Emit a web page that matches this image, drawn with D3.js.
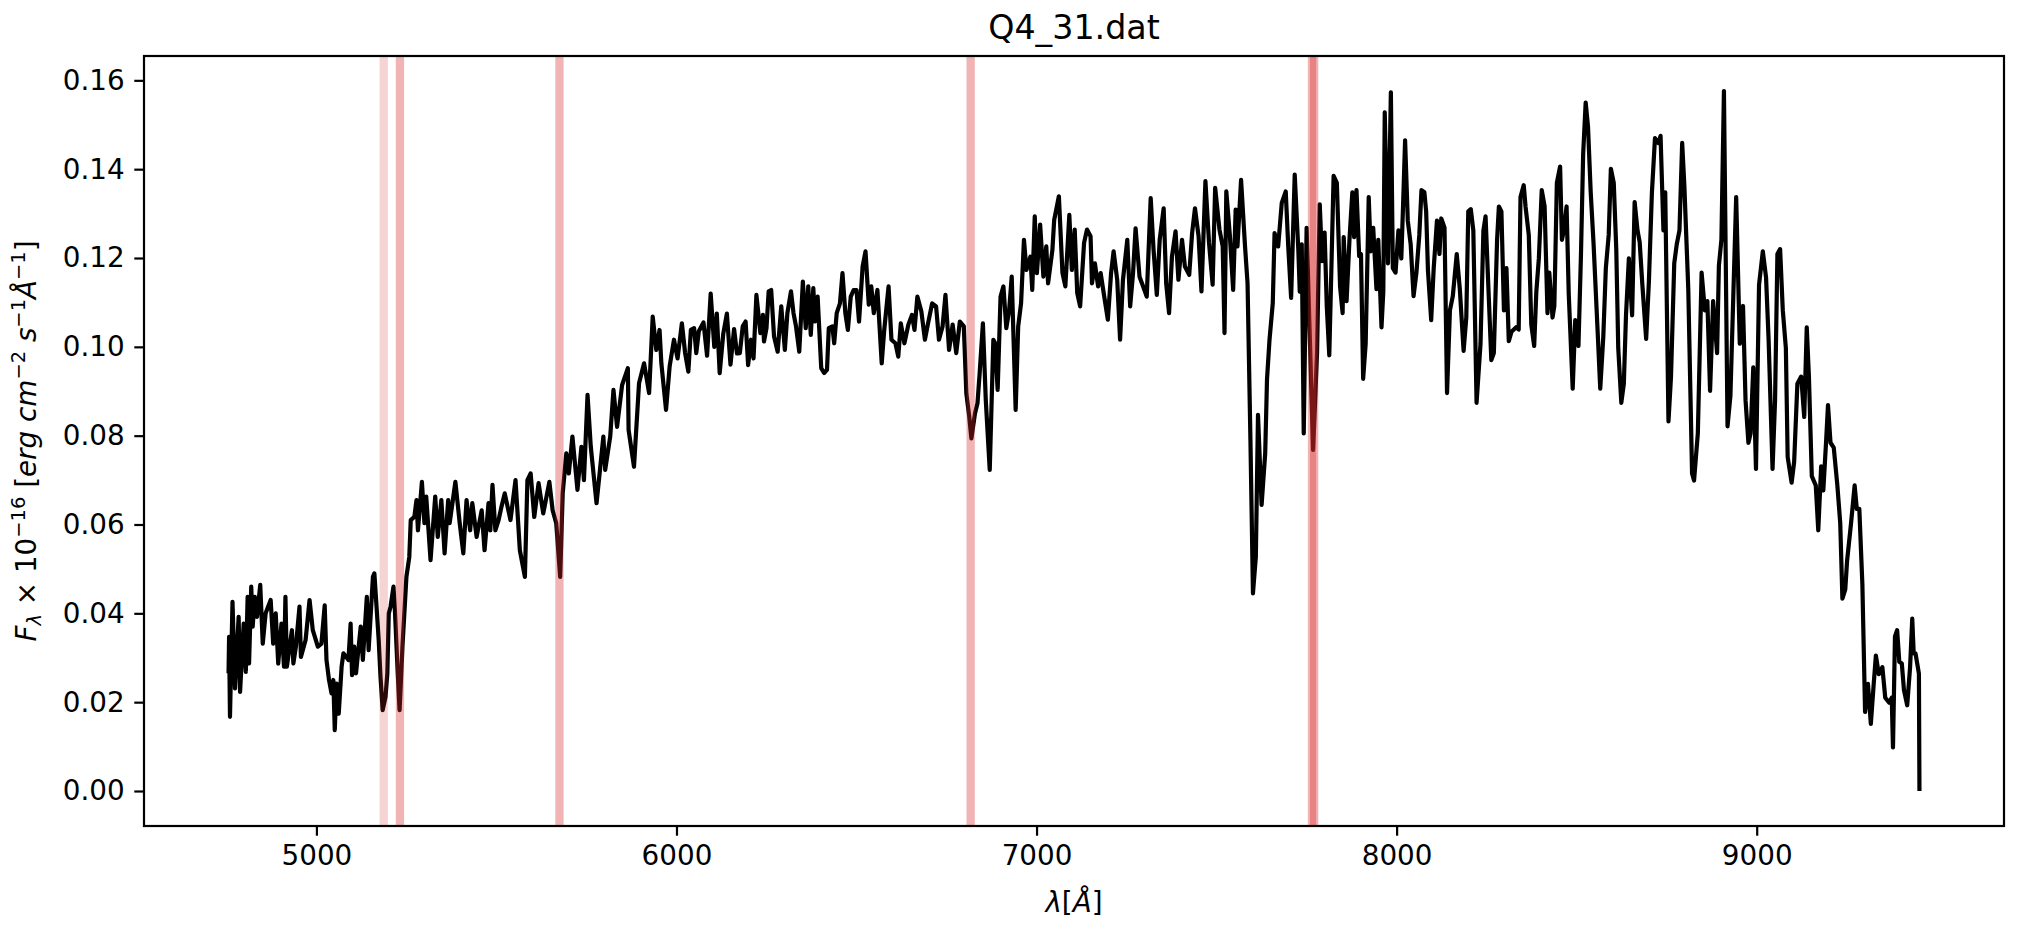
<!DOCTYPE html>
<html>
<head>
<meta charset="utf-8">
<script src="https://cdn.jsdelivr.net/npm/d3@7"></script>
<style>
  body { margin: 0; background: #fff; }
  text { font-family: "DejaVu Sans", sans-serif; fill: #000; }
</style>
</head>
<body>
<svg id="chart" width="2026" height="932"></svg>
<script>

// spectrum (wavelength in Angstrom, flux in 1e-16 erg/cm2/s/A)
var wave = [
  4756, 4757.5, 4760, 4767, 4774, 4784, 4788, 4798, 4804, 4809, 4813, 4819, 4823, 4829, 4835, 4844,
  4851, 4859, 4873, 4880, 4887, 4894, 4903, 4910, 4914, 4918, 4932, 4936, 4943, 4953, 4957, 4970,
  4981, 4990, 5004, 5014, 5023, 5028, 5035, 5042, 5047, 5051, 5056, 5062, 5070, 5075, 5089, 5095,
  5099, 5105, 5110, 5123, 5129, 5136, 5140, 5145, 5157, 5161, 5173, 5178, 5184, 5192, 5197, 5201,
  5206, 5214, 5218, 5225, 5231, 5239, 5250, 5258, 5262, 5272, 5278, 5282, 5293, 5300, 5305, 5317,
  5330, 5337, 5347, 5356, 5366, 5370, 5386, 5398, 5408, 5417, 5427, 5433, 5445, 5459, 5467, 5478,
  5483, 5489, 5497, 5506, 5514, 5523, 5539, 5553, 5565, 5579, 5586, 5595, 5605, 5617, 5630, 5647,
  5656, 5666, 5677, 5684, 5694, 5701, 5711, 5725, 5736, 5743, 5753, 5762, 5778, 5797, 5802, 5816,
  5825, 5835, 5849, 5865, 5867, 5882, 5896, 5910, 5924, 5934, 5944, 5953, 5958, 5971, 5981, 5993,
  6003, 6015, 6024, 6033, 6040, 6049, 6055, 6062, 6075, 6085, 6095, 6105, 6112, 6120, 6130, 6140,
  6150, 6160, 6168,
  6176, 6184, 6192, 6199, 6207, 6214, 6222, 6233, 6240, 6243, 6250, 6256, 6263, 6271, 6281, 6291,
  6301, 6308, 6318, 6325, 6332, 6341, 6351, 6359, 6366, 6373, 6380, 6385, 6392, 6402, 6410, 6418,
  6423, 6433, 6438, 6445, 6454, 6461, 6469, 6476, 6484, 6492, 6500, 6507, 6517, 6525, 6534, 6541,
  6548, 6558, 6570, 6577, 6589, 6597, 6608, 6616, 6623, 6633, 6644, 6654, 6661, 6669, 6680, 6690,
  6698, 6710, 6721, 6729, 6739, 6747, 6757, 6767, 6777, 6787, 6798, 6805, 6813, 6819, 6829, 6836,
  6842, 6851, 6859, 6870, 6880, 6885, 6892, 6900, 6908, 6916, 6924, 6931, 6942, 6949, 6957, 6965,
  6972, 6983, 6988, 6995, 7001, 7010, 7019, 7027, 7032, 7044, 7049, 7062, 7072, 7080, 7091, 7098,
  7106, 7113, 7121, 7132, 7140, 7150, 7154, 7162, 7171, 7178, 7188, 7198, 7207, 7214, 7224, 7232,
  7240, 7252, 7260, 7268, 7275, 7286, 7296, 7306, 7317, 7325, 7334, 7342, 7353, 7360, 7368, 7376,
  7386, 7394, 7404, 7412, 7424, 7432, 7440, 7450, 7458, 7469, 7479, 7489, 7496, 7508, 7517, 7522,
  7527, 7537, 7546, 7553, 7558, 7568, 7579, 7586, 7594, 7601, 7609, 7615, 7625, 7635, 7640, 7647,
  7656, 7661, 7671, 7681, 7692, 7699, 7707, 7717, 7727,
  7731, 7736.5, 7742, 7750, 7768, 7779, 7786.5, 7793, 7800, 7806, 7813, 7825, 7834, 7843, 7850, 7853,
  7861, 7869, 7877, 7882, 7888.5, 7896, 7901, 7907, 7914, 7922.5, 7928, 7935, 7944, 7949, 7958, 7963,
  7967, 7976, 7984, 7989.5, 7997, 8005, 8013, 8018, 8023.5, 8031, 8039, 8047, 8055, 8063, 8069, 8077,
  8082, 8087, 8096, 8103, 8112, 8119, 8124, 8133, 8140, 8148, 8156, 8167, 8175.5, 8186, 8193.5, 8199,
  8206, 8213, 8222, 8233, 8241, 8247, 8254, 8263, 8270, 8279, 8284, 8291, 8298, 8305, 8311.5, 8319,
  8332, 8339, 8344, 8353, 8358, 8367, 8374, 8382, 8388, 8395, 8403, 8411, 8419, 8424, 8433, 8438,
  8445, 8454, 8459, 8464.5, 8472, 8478, 8489, 8496, 8505, 8512, 8518, 8525, 8531.5, 8539, 8547, 8558,
  8565.5, 8574, 8581, 8589, 8595, 8603, 8610, 8615.5, 8624, 8631, 8637, 8645, 8654, 8661, 8669, 8675,
  8682, 8693, 8700.5, 8709, 8717.5, 8727, 8733, 8741, 8746, 8755, 8762, 8771, 8778, 8785.5, 8793, 8799,
  8810, 8820.5, 8826, 8836.5, 8847, 8856, 8863, 8870.5, 8879, 8890, 8895, 8902, 8909, 8919, 8927, 8935,
  8943, 8953, 8962, 8969, 8977, 8983, 8990.5, 8998, 9006.5, 9017, 9026, 9033, 9044, 9051, 9057.5, 9065,
  9072.5, 9081, 9086, 9097, 9104, 9113, 9123.5, 9132, 9139, 9145, 9153, 9164, 9171, 9179, 9185, 9192.5,
  9198, 9205, 9214, 9224, 9232, 9238, 9246, 9251, 9262, 9272, 9278, 9285, 9293.5, 9301, 9309, 9317,
  9325, 9331, 9339, 9349, 9357, 9368, 9375, 9378.5, 9384, 9390, 9396, 9403, 9409, 9418, 9426, 9432,
  9436, 9441, 9447.5, 9450.5, 9452
];

var flux = [
  0.0265, 0.0347, 0.0167, 0.0426, 0.0231, 0.0392, 0.0223, 0.0377, 0.0268, 0.0437, 0.0287, 0.0460, 0.0370, 0.0437, 0.0392, 0.0464,
  0.0332, 0.0400, 0.0430, 0.0332, 0.0400, 0.0287, 0.0377, 0.0280, 0.0437, 0.0280, 0.0362, 0.0287, 0.0325, 0.0415, 0.0302, 0.0340,
  0.0430, 0.0362, 0.0325, 0.0332, 0.0418, 0.0295, 0.0250, 0.0220, 0.0250, 0.0137, 0.0242, 0.0174, 0.0280, 0.0310, 0.0295, 0.0377,
  0.0261, 0.0325, 0.0265, 0.0370, 0.0295, 0.0385, 0.0437, 0.0317, 0.0482, 0.0490, 0.0340, 0.0257, 0.0182, 0.0212, 0.0265, 0.0400,
  0.0415, 0.0460, 0.0407, 0.0280, 0.0182, 0.0325, 0.0482, 0.0527, 0.0610, 0.0617, 0.0655, 0.0587, 0.0696, 0.0603, 0.0663, 0.0520,
  0.0663, 0.0572, 0.0655, 0.0535, 0.0655, 0.0603, 0.0696, 0.0603, 0.0535, 0.0655, 0.0587, 0.0648, 0.0572, 0.0632, 0.0542, 0.0648,
  0.0587, 0.0689, 0.0587, 0.0610, 0.0640, 0.0670, 0.0610, 0.0700, 0.0542, 0.0482, 0.0700, 0.0715, 0.0617, 0.0693, 0.0625, 0.0696,
  0.0632, 0.0603, 0.0482, 0.0670, 0.0760, 0.0715, 0.0798, 0.0678, 0.0775, 0.0700, 0.0892, 0.0775, 0.0648, 0.0798, 0.0723, 0.0798,
  0.0903, 0.0820, 0.0914, 0.0952, 0.0813, 0.0730, 0.0918, 0.0963, 0.0896, 0.1068, 0.0993, 0.1038, 0.0963, 0.0858, 0.0956, 0.1016,
  0.0974, 0.1053, 0.0986, 0.0944, 0.1038, 0.1042, 0.0986, 0.1035, 0.1055, 0.0980, 0.1120, 0.1000, 0.1075, 0.0941, 0.1030, 0.1075,
  0.0960, 0.1040, 0.0985,
  0.0986, 0.1046, 0.1057, 0.0959, 0.1016, 0.0974, 0.1117, 0.1031, 0.1072, 0.1012, 0.1042, 0.1125, 0.1128, 0.1023, 0.0989, 0.1091,
  0.0993, 0.1076, 0.1125, 0.1076, 0.1046, 0.0989, 0.1147, 0.1042, 0.1136, 0.1027, 0.1132, 0.1057, 0.1113, 0.0952, 0.0941, 0.0948,
  0.1042, 0.1046, 0.1008, 0.1076, 0.1098, 0.1166, 0.1076, 0.1038, 0.1113, 0.1128, 0.1128, 0.1057, 0.1181, 0.1215, 0.1095, 0.1136,
  0.1076, 0.1128, 0.0963, 0.1038, 0.1136, 0.1016, 0.1008, 0.0978, 0.1053, 0.1008, 0.1050, 0.1072, 0.1038, 0.1113, 0.1080, 0.1016,
  0.1050, 0.1098, 0.1091, 0.1016, 0.1046, 0.1117, 0.0993, 0.1050, 0.0986, 0.1057, 0.1046, 0.0895, 0.0843, 0.0794, 0.0850, 0.0873,
  0.0941, 0.1053, 0.0880, 0.0723, 0.1016, 0.1008, 0.0903, 0.1113, 0.1136, 0.1042, 0.1083, 0.1158, 0.0858, 0.1046, 0.1098, 0.1241,
  0.1173, 0.1203, 0.1128, 0.1294, 0.1166, 0.1275, 0.1158, 0.1226, 0.1143, 0.1218, 0.1286, 0.1339, 0.1166, 0.1136, 0.1297, 0.1173,
  0.1264, 0.1121, 0.1091, 0.1234, 0.1264, 0.1249, 0.1143, 0.1188, 0.1136, 0.1166, 0.1113, 0.1061, 0.1166, 0.1215, 0.1151, 0.1016,
  0.1151, 0.1241, 0.1091, 0.1166, 0.1267, 0.1158, 0.1136, 0.1113, 0.1335, 0.1218, 0.1117, 0.1241, 0.1312, 0.1143, 0.1076, 0.1203,
  0.1260, 0.1151, 0.1241, 0.1181, 0.1162, 0.1256, 0.1312, 0.1249, 0.1125, 0.1373, 0.1234, 0.1140, 0.1358, 0.1264, 0.1226, 0.1031,
  0.1350, 0.1249, 0.1128, 0.1309, 0.1226, 0.1376, 0.1226, 0.1143, 0.0790, 0.0445, 0.0527, 0.0847, 0.0644, 0.0760, 0.0926, 0.1016,
  0.1098, 0.1256, 0.1226, 0.1324, 0.1350, 0.1226, 0.1110, 0.1388, 0.1218,
  0.1124, 0.1231, 0.0805, 0.1268, 0.0768, 0.0986, 0.1321, 0.1193, 0.1257, 0.1092, 0.0981, 0.1385, 0.1369, 0.1135, 0.1076, 0.1247,
  0.1103, 0.1241, 0.1348, 0.1247, 0.1353, 0.1204, 0.1209, 0.0928, 0.1007, 0.1337, 0.1215, 0.1268, 0.1130, 0.1241, 0.1044, 0.1124,
  0.1528, 0.1188, 0.1573, 0.1177, 0.1167, 0.1262, 0.1199, 0.1321, 0.1465, 0.1284, 0.1231, 0.1114, 0.1167, 0.1252, 0.1353, 0.1348,
  0.1305, 0.1172, 0.1060, 0.1177, 0.1284, 0.1209, 0.1289, 0.1268, 0.0896, 0.1082, 0.1114, 0.1209, 0.1130, 0.0991, 0.1066, 0.1305,
  0.1310, 0.1262, 0.0874, 0.1007, 0.1262, 0.1294, 0.1151, 0.0970, 0.0986, 0.1241, 0.1316, 0.1305, 0.1082, 0.1177, 0.1013, 0.1034,
  0.1044, 0.1039, 0.1337, 0.1364, 0.1316, 0.1252, 0.1050, 0.1002, 0.1124, 0.1199, 0.1353, 0.1316, 0.1076, 0.1167, 0.1066, 0.1092,
  0.1369, 0.1406, 0.1241, 0.1262, 0.1316, 0.1119, 0.0906, 0.1060, 0.1002, 0.1209, 0.1433, 0.1550, 0.1496, 0.1348, 0.1231, 0.1039,
  0.0906, 0.1023, 0.1177, 0.1252, 0.1401, 0.1369, 0.1220, 0.0997, 0.0874, 0.0917, 0.1071, 0.1199, 0.1071, 0.1326, 0.1262, 0.1236,
  0.1145, 0.1018, 0.1145, 0.1348, 0.1470, 0.1459, 0.1475, 0.1262, 0.1348, 0.0832, 0.0933, 0.1188, 0.1231, 0.1262, 0.1459, 0.1364,
  0.1130, 0.0715, 0.0699, 0.0805, 0.1167, 0.1082, 0.1103, 0.0901, 0.1103, 0.0986, 0.1183, 0.1241, 0.1576, 0.0821, 0.0890, 0.1114,
  0.1337, 0.1007, 0.1092, 0.0880, 0.0784, 0.0805, 0.0954, 0.0725, 0.1140, 0.1215, 0.1156, 0.1018, 0.0725, 0.0880, 0.1209, 0.1220,
  0.1082, 0.0997, 0.0752, 0.0694, 0.0741, 0.0917, 0.0933, 0.0842, 0.1044, 0.0933, 0.0709, 0.0688, 0.0587, 0.0731, 0.0677, 0.0784,
  0.0869, 0.0784, 0.0773, 0.0688, 0.0603, 0.0433, 0.0454, 0.0518, 0.0603, 0.0688, 0.0635, 0.0635, 0.0465, 0.0178, 0.0241, 0.0151,
  0.0241, 0.0305, 0.0263, 0.0279, 0.0210, 0.0199, 0.0210, 0.0098, 0.0348, 0.0362, 0.0291, 0.0287, 0.0227, 0.0193, 0.0279, 0.0388,
  0.0310, 0.0310, 0.0279, 0.0264, 0.0000
];

// marked lines (Angstrom) and their shading strength
var lineWave = [5187, 5232, 5675, 6817, 7765, 7771];
var lineAlpha = [0.2, 0.35, 0.35, 0.35, 0.35, 0.35];

var xTicks = [5000, 6000, 7000, 8000, 9000];
var yTicks = [0.00, 0.02, 0.04, 0.06, 0.08, 0.10, 0.12, 0.14, 0.16];

var margin = {top: 56, right: 22, bottom: 106, left: 144},
    width = 2026 - margin.left - margin.right,
    height = 932 - margin.top - margin.bottom;

var fs = 27.8;

var data = wave.map(function(w, i) { return {w: w, f: flux[i]}; });

// matplotlib style 5% padding around the data
function padded(ext) {
  var d = (ext[1] - ext[0]) * 0.05;
  return [ext[0] - d, ext[1] + d];
}

var x = d3.scaleLinear()
    .domain(padded(d3.extent(wave)))
    .range([0, width]);

var y = d3.scaleLinear()
    .domain(padded(d3.extent(flux)))
    .range([height, 0]);

var svg = d3.select("#chart")
    .append("g")
    .attr("transform", "translate(" + margin.left + "," + margin.top + ")");

var line = d3.line()
    .x(function(d) { return x(d.w); })
    .y(function(d) { return y(d.f); });

svg.append("path")
    .datum(data)
    .attr("fill", "none")
    .attr("stroke", "#000")
    .attr("stroke-width", 4.2)
    .attr("stroke-linejoin", "round")
    .attr("d", line);

svg.selectAll("line.mark")
    .data(lineWave)
    .enter().append("line")
    .attr("class", "mark")
    .attr("x1", function(d) { return x(d); })
    .attr("x2", function(d) { return x(d); })
    .attr("y1", 0)
    .attr("y2", height)
    .attr("stroke", "#d62728")
    .attr("stroke-width", 8.3)
    .attr("stroke-opacity", function(d, i) { return lineAlpha[i]; });

var xAxis = d3.axisBottom(x)
    .tickValues(xTicks)
    .tickFormat(d3.format("d"))
    .tickSizeOuter(0)
    .tickSizeInner(9.7)
    .tickPadding(9.7);

var yAxis = d3.axisLeft(y)
    .tickValues(yTicks)
    .tickFormat(d3.format(".2f"))
    .tickSizeOuter(0)
    .tickSizeInner(9.7)
    .tickPadding(9.7);

var gx = svg.append("g")
    .attr("class", "x axis")
    .attr("transform", "translate(0," + height + ")")
    .call(xAxis);

var gy = svg.append("g")
    .attr("class", "y axis")
    .call(yAxis);

[gx, gy].forEach(function(g) {
  g.select(".domain").remove();
  g.selectAll(".tick line").attr("stroke", "#000").attr("stroke-width", 2.2);
  g.selectAll(".tick text")
      .attr("fill", "#000")
      .style("font-family", "'DejaVu Sans'")
      .style("font-size", fs + "px");
});

svg.append("rect")
    .attr("width", width)
    .attr("height", height)
    .attr("fill", "none")
    .attr("stroke", "#000")
    .attr("stroke-width", 2.2);

// title
svg.append("text")
    .attr("x", width / 2)
    .attr("y", -17)
    .attr("text-anchor", "middle")
    .style("font-size", "33.3px")
    .text("Q4_31.dat");

// x label: lambda [A]
var xl = svg.append("text")
    .attr("x", width / 2)
    .attr("y", height + 86)
    .attr("text-anchor", "middle")
    .style("font-size", fs + "px");
xl.append("tspan").style("font-style", "italic").text("λ");
xl.append("tspan").text("[");
xl.append("tspan").style("font-style", "italic").text("Å");
xl.append("tspan").text("]");

// y label with sub/superscripts
var sub = fs * 0.7, up = 11, dn = 5;
var yl = svg.append("text")
    .attr("transform", "translate(" + (-108) + "," + (height / 2) + ") rotate(-90)")
    .attr("text-anchor", "middle")
    .style("font-size", fs + "px");

var parts = [
  {t: "F", it: true},
  {t: "λ", it: true, s: "sub"},
  {t: " × 10"},
  {t: "−16", s: "sup"},
  {t: " ["},
  {t: "erg", it: true},
  {t: " cm", it: true},
  {t: "−2", s: "sup"},
  {t: " s", it: true},
  {t: "−1", s: "sup"},
  {t: "Å", it: true},
  {t: "−1", s: "sup"},
  {t: "]"}
];

var shift = 0;
parts.forEach(function(p) {
  var target = p.s === "sup" ? -up : (p.s === "sub" ? dn : 0);
  var ts = yl.append("tspan")
      .attr("dy", target - shift)
      .text(p.t);
  if (p.it) ts.style("font-style", "italic");
  if (p.s) ts.style("font-size", sub + "px");
  shift = target;
});

</script>
</body>
</html>
